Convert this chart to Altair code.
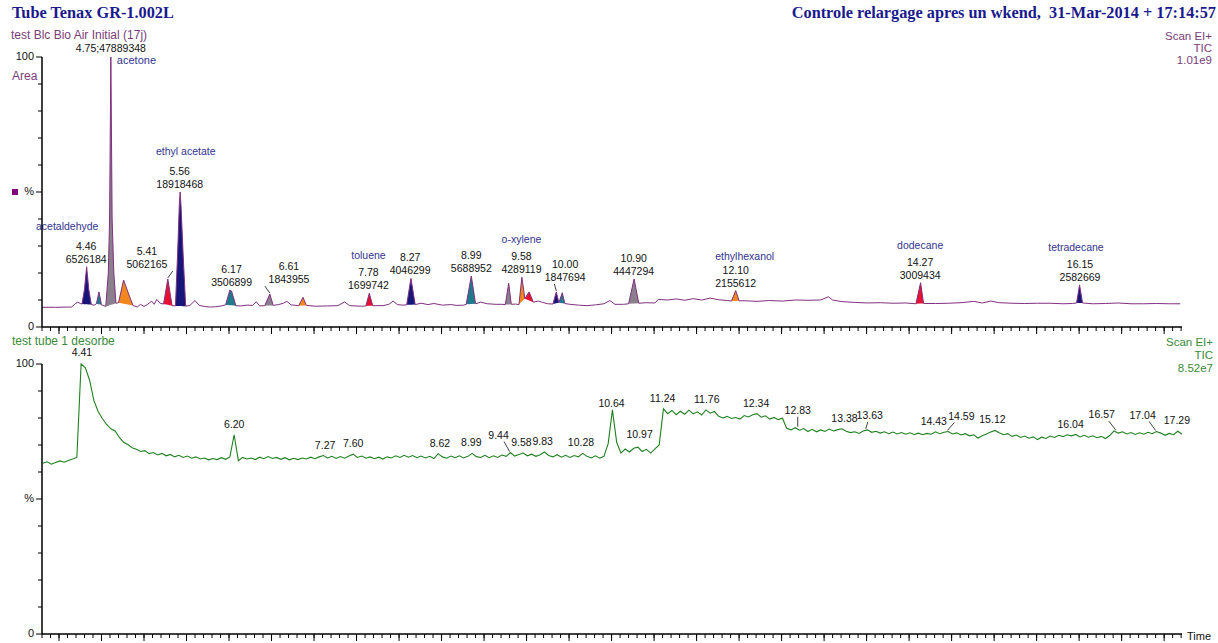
import altair as alt
import numpy as np
import pandas as pd

# ---------------------------------------------------------------------------
# Upper trace: "test Blc Bio Air Initial (17j)" TIC, % of 1.01e9
# (retention time in min, intensity in %)
# ---------------------------------------------------------------------------
TOP_TRACE = [
    (3.94, 7.3), (4.10, 7.3), (4.29, 7.4), (4.33, 8.6), (4.36, 9.2), (4.39, 8.7),
    (4.41, 8.5), (4.44, 14.0), (4.465, 22.3), (4.49, 14.0), (4.52, 8.3),
    (4.555, 8.1), (4.58, 8.6), (4.61, 13.0), (4.64, 8.2),
    (4.69, 7.6), (4.72, 20.0), (4.735, 40.0), (4.75, 100.0), (4.765, 40.0), (4.785, 20.0), (4.81, 8.8),
    (4.84, 9.0), (4.90, 17.4), (4.95, 13.0), (5.01, 8.0),
    (5.06, 7.4), (5.10, 8.4), (5.14, 7.6), (5.18, 8.3), (5.23, 9.6), (5.26, 8.4), (5.29, 10.2), (5.33, 8.8),
    (5.37, 8.5), (5.42, 17.8), (5.47, 7.9),
    (5.51, 7.8), (5.535, 27.0), (5.555, 45.0), (5.565, 50.0), (5.575, 45.0), (5.60, 27.0), (5.63, 7.7),
    (5.68, 8.0), (5.74, 9.8), (5.79, 8.0), (5.85, 7.6), (5.92, 7.4), (5.98, 7.5), (6.05, 7.8),
    (6.10, 8.2), (6.15, 13.7), (6.17, 13.3), (6.22, 7.9),
    (6.28, 7.8), (6.35, 8.1), (6.42, 8.0), (6.46, 9.4), (6.50, 7.8),
    (6.56, 7.9), (6.62, 12.2), (6.66, 8.0),
    (6.72, 8.3), (6.78, 8.8), (6.82, 9.5), (6.87, 8.2),
    (6.96, 7.9), (7.01, 11.0), (7.05, 8.0),
    (7.15, 7.7), (7.30, 7.8), (7.42, 7.9), (7.50, 9.3), (7.56, 7.9), (7.70, 7.7),
    (7.75, 7.8), (7.79, 12.5), (7.83, 7.9),
    (7.95, 7.9), (8.02, 8.4), (8.07, 9.6), (8.12, 8.3), (8.18, 8.1),
    (8.23, 8.2), (8.28, 18.0), (8.33, 8.3),
    (8.40, 8.8), (8.48, 8.3), (8.55, 8.7), (8.65, 8.1), (8.75, 8.3), (8.82, 8.0), (8.90, 8.1),
    (8.93, 8.4), (8.99, 18.9), (9.04, 8.6),
    (9.10, 9.2), (9.18, 8.6), (9.28, 8.4), (9.35, 8.4),
    (9.39, 8.3), (9.43, 16.2), (9.46, 8.4),
    (9.51, 8.5),
    (9.55, 8.3), (9.585, 18.4), (9.62, 10.5), (9.67, 13.0), (9.72, 9.2),
    (9.78, 9.6), (9.83, 9.1), (9.89, 8.6),
    (9.95, 8.5), (9.99, 13.0), (10.02, 9.0), (10.06, 12.7), (10.09, 8.7),
    (10.15, 8.4), (10.25, 8.1), (10.35, 7.9), (10.45, 8.2), (10.55, 8.6), (10.62, 9.8), (10.68, 8.4), (10.78, 8.4),
    (10.84, 8.6), (10.905, 17.8), (10.96, 8.8),
    (11.05, 9.0), (11.15, 8.9), (11.19, 10.2), (11.30, 10.0), (11.40, 10.4), (11.50, 9.9), (11.60, 10.5),
    (11.70, 10.0), (11.80, 10.7), (11.90, 10.1), (12.00, 9.8),
    (12.05, 9.6), (12.10, 13.5), (12.14, 9.7),
    (12.22, 9.7), (12.35, 9.5), (12.50, 9.8), (12.65, 9.6), (12.80, 10.0), (12.95, 9.9), (13.10, 10.0),
    (13.19, 11.2), (13.24, 10.0), (13.35, 9.4), (13.50, 9.1), (13.65, 8.9), (13.80, 9.0), (13.95, 8.8), (14.10, 8.9),
    (14.22, 8.6), (14.275, 16.4), (14.31, 8.7),
    (14.45, 8.7), (14.60, 8.8), (14.75, 9.0), (14.90, 9.5), (15.00, 8.9), (15.10, 9.6), (15.20, 9.0),
    (15.35, 8.8), (15.50, 8.7), (15.65, 8.8), (15.80, 8.8), (15.95, 8.6), (16.06, 8.7),
    (16.11, 8.9), (16.145, 15.6), (16.18, 8.9),
    (16.30, 8.6), (16.45, 8.7), (16.60, 8.9), (16.75, 8.6), (16.90, 8.6), (17.05, 8.7), (17.20, 8.6), (17.33, 8.6),
]

NAVY, TEAL, GREY, ORANGE, RED = "#16167a", "#1f7a8c", "#8a7f8c", "#f2871e", "#e8102e"

# integrated peaks: start, end, fill
PEAK_START = [4.41, 4.58, 4.69, 4.84, 5.37, 5.51, 6.10, 6.56, 6.96, 7.75, 8.23, 8.93, 9.39,
              9.55, 9.62, 9.95, 10.02, 10.84, 12.05, 14.22, 16.11]
PEAK_END = [4.52, 4.64, 4.81, 5.01, 5.47, 5.63, 6.22, 6.66, 7.05, 7.83, 8.33, 9.04, 9.46,
            9.62, 9.72, 10.02, 10.09, 10.96, 12.14, 14.31, 16.18]
PEAK_FILL = [NAVY, TEAL, GREY, ORANGE, RED, NAVY, TEAL, GREY, ORANGE, RED, NAVY, TEAL, GREY,
             ORANGE, RED, NAVY, TEAL, GREY, ORANGE, RED, NAVY]

# annotated peaks of the upper trace
TOP_LABEL_RT = ["4.46", "5.41", "5.56", "6.17", "6.61", "7.78", "8.27", "8.99", "9.58",
                "10.00", "10.90", "12.10", "14.27", "16.15"]
TOP_LABEL_AREA = [6526184, 5062165, 18918468, 3506899, 1843955, 1699742, 4046299, 5688952,
                  4289119, 1847694, 4447294, 2155612, 3009434, 2582669]
TOP_LABEL_NAME = ["acetaldehyde", "", "ethyl acetate", "", "", "toluene", "", "", "o-xylene",
                  "", "", "ethylhexanol", "dodecane", "tetradecane"]
BASE_PEAK_RT, BASE_PEAK_AREA, BASE_PEAK_NAME = "4.75", 47889348, "acetone"

# ---------------------------------------------------------------------------
# Lower trace: "test tube 1 desorbe" TIC, % of 8.52e7, one reading every 0.05 min
# from 3.95 min (one row per minute)
# ---------------------------------------------------------------------------
BOT_FIRST_RT, BOT_STEP = 3.95, 0.05
BOT_PCT = [
    63.2, 63.8, 62.9, 63.5, 64.1, 63.6, 64.3, 64.8, 65.4, 100.0, 98.6, 94.0, 86.5, 82.4, 79.8, 77.6, 76.0, 75.2, 72.8, 71.0,
    70.2, 69.0, 68.4, 67.6, 67.9, 66.8, 67.2, 66.3, 66.9, 66.0, 66.5, 65.6, 66.2, 65.4, 65.9, 65.1, 65.6, 64.8, 65.2, 64.5,
    65.0, 64.6, 65.3, 64.7, 65.6, 73.8, 64.2, 65.4, 64.8, 65.2, 64.6, 65.5, 64.9, 65.7, 65.0, 65.4, 64.7, 65.3, 64.5, 65.1,
    64.6, 65.2, 64.8, 65.5, 64.9, 65.6, 66.1, 65.2, 65.8, 65.0, 65.7, 65.1, 65.9, 66.6, 65.4, 65.9, 65.1, 65.6, 64.9, 65.5,
    64.8, 65.6, 65.2, 66.0, 65.4, 66.2, 65.5, 66.1, 65.3, 65.9, 65.2, 65.8, 65.0, 66.8, 65.6, 65.1, 65.9, 65.3, 66.0, 65.2,
    65.8, 66.9, 65.7, 65.4, 66.2, 65.3, 66.0, 65.4, 66.3, 65.8, 67.2, 65.9, 66.5, 67.0, 66.0, 66.6, 65.8, 66.4, 67.4, 66.1,
    65.6, 66.4, 65.5, 66.2, 65.4, 66.1, 65.6, 66.9, 65.8, 65.2, 66.0, 65.1, 65.8, 70.5, 83.0, 71.0, 67.0, 68.5, 67.4, 68.8,
    69.2, 67.6, 68.4, 67.0, 68.6, 70.0, 83.4, 81.6, 82.8, 81.2, 82.5, 81.4, 82.9, 81.5, 82.3, 81.1, 83.0, 81.8, 82.4, 80.6,
    80.0, 80.6, 79.8, 80.2, 79.6, 80.9, 80.4, 81.2, 81.6, 80.3, 80.8, 79.6, 80.2, 79.4, 79.9, 76.2, 75.6, 76.4, 75.5, 76.1,
    75.0, 75.8, 74.9, 75.6, 75.0, 75.9, 75.2, 75.7, 76.0, 75.1, 74.6, 74.9, 74.3, 75.2, 75.6, 74.7, 75.1, 74.4, 74.9, 74.2,
    74.8, 74.1, 74.6, 74.0, 74.5, 73.9, 74.4, 73.8, 74.3, 74.0, 74.9, 74.2, 74.7, 75.0, 74.1, 74.5, 73.7, 74.2, 73.4, 73.8,
    72.6, 73.4, 74.1, 74.8, 75.4, 74.5, 73.8, 74.2, 73.2, 73.7, 72.8, 73.3, 72.5, 73.0, 72.0, 72.9, 72.4, 73.3, 72.8, 73.6,
    73.1, 73.8, 73.4, 73.9, 73.0, 73.6, 72.9, 73.4, 72.7, 73.2, 72.4, 73.5, 75.2, 74.4, 74.9, 74.1, 74.6, 73.9, 74.5, 74.0,
    74.7, 74.2, 75.0, 74.4, 73.6, 74.3, 73.8, 75.1, 74.0,
]
BOT_LABEL_RT = ["4.41", "6.20", "7.27", "7.60", "8.62", "8.99", "9.44", "9.58", "9.83", "10.28",
                "10.64", "10.97", "11.24", "11.76", "12.34", "12.83", "13.38", "13.63", "14.43",
                "14.59", "15.12", "16.04", "16.57", "17.04", "17.29"]

# ---------------------------------------------------------------------------
# Layout (pixels)
# ---------------------------------------------------------------------------
W, H = 1140, 577                 # shared plot area holding both panels
RT_MIN, RT_MAX = 3.94, 17.35
PX_MIN = W / (RT_MAX - RT_MIN)   # pixels per minute
PX_PCT = 2.7                     # pixels per % in each panel
TOP_ZERO = 100 * PX_PCT          # y pixel of 0 % in the upper panel
BOT_ZERO = H                     # y pixel of 0 % in the lower panel
BOT_TOP = H - 100 * PX_PCT

FONT = "Liberation Sans"
SERIF = "Liberation Serif"
LABEL_SIZE = 10.5
HEAD_SIZE = 12
TITLE_BLUE = "#1a1a8c"
NAME_BLUE = "#34348f"
PURPLE = "#80307f"
PURPLE_TXT = "#7a3d7a"
GREEN = "#1f801f"
GREEN_TXT = "#3a8a3a"
INK = "#111111"

# label placement tweaks, in pixels
TOP_SHIFT = {"5.41": -20, "6.61": 20, "10.00": 8}
TOP_NAME_SHIFT = {"4.46": -19, "5.56": 6, "12.10": 9, "16.15": -4}
TOP_NAME_RAISE = {"4.46": 40, "5.56": 40, "12.10": 34}
BOT_RAISE = {"4.41": 11, "10.64": 6, "12.83": 17, "13.63": 14, "14.59": 15, "16.57": 16,
             "17.04": 16, "9.44": 17, "10.97": 12}
BOT_SHIFT = {"9.44": -11, "13.63": 4, "14.59": 14, "16.57": -14, "17.04": -13}
BOT_LEADER = ["9.44", "12.83", "13.63", "14.59", "16.57", "17.04"]

x_scale = alt.Scale(domain=[RT_MIN, RT_MAX], nice=False, zero=False)
top_scale = alt.Scale(domain=[100 - H / PX_PCT, 100], nice=False, zero=False)
bot_scale = alt.Scale(domain=[0, H / PX_PCT], nice=False, zero=False)


def xq(field):
    return alt.X(f"{field}:Q", scale=x_scale, axis=None)


def yq(field, scale):
    return alt.Y(f"{field}:Q", scale=scale, axis=None)


def local_peak(df, rt, half):
    w = df[(df.t >= rt - half) & (df.t <= rt + half)]
    i = w.v.idxmax()
    return float(w.t[i]), float(w.v[i])


def text_at(s, x, y, color=INK, size=HEAD_SIZE, font=FONT, align="left", weight="normal"):
    return alt.Chart(pd.DataFrame({"s": [s]})).mark_text(
        align=align, baseline="middle", font=font, fontSize=size, fontWeight=weight, color=color
    ).encode(x=alt.value(x), y=alt.value(y), text="s:N")


# ---------------------------------------------------------------------------
# data frames
# ---------------------------------------------------------------------------
top_df = pd.DataFrame(TOP_TRACE, columns=["t", "v"])

area_rows = []
for k, (s, e, c) in enumerate(zip(PEAK_START, PEAK_END, PEAK_FILL)):
    seg = top_df[(top_df.t >= s - 1e-9) & (top_df.t <= e + 1e-9)]
    v0, v1 = seg.v.iloc[0], seg.v.iloc[-1]
    for t, v in zip(seg.t, seg.v):
        base = v0 + (v1 - v0) * (t - s) / (e - s)
        area_rows.append({"t": t, "v": v, "b": base, "k": k, "c": c})
area_df = pd.DataFrame(area_rows)

top_txt, top_lead = [], []
for rt, area, name in zip(TOP_LABEL_RT, TOP_LABEL_AREA, TOP_LABEL_NAME):
    pt, pv = local_peak(top_df, float(rt), 0.03)
    shift = TOP_SHIFT.get(rt, 0)
    extra = 7 if shift else 0
    lx = float(rt) + shift / PX_MIN
    top_txt.append({"t": lx, "y": pv + (20 + extra) / PX_PCT, "s": rt, "c": INK, "a": "center"})
    top_txt.append({"t": lx, "y": pv + (7 + extra) / PX_PCT, "s": str(area), "c": INK, "a": "center"})
    if name:
        top_txt.append({"t": float(rt) + TOP_NAME_SHIFT.get(rt, 0) / PX_MIN,
                        "y": pv + TOP_NAME_RAISE.get(rt, 37) / PX_PCT, "s": name, "c": NAME_BLUE,
                        "a": "center"})
    if shift:
        top_lead.append({"t": pt - 0.25 * shift / PX_MIN, "y": pv + 8 / PX_PCT,
                         "t2": pt, "y2": pv + 1 / PX_PCT})
bt, bv = local_peak(top_df, float(BASE_PEAK_RT), 0.03)
top_txt.append({"t": bt, "y": bv + 8 / PX_PCT, "s": f"{BASE_PEAK_RT};{BASE_PEAK_AREA}", "c": INK,
                "a": "center"})
top_txt.append({"t": bt + 6 / PX_MIN, "y": bv - 4 / PX_PCT, "s": BASE_PEAK_NAME, "c": NAME_BLUE,
                "a": "left"})
top_txt_df = pd.DataFrame(top_txt)
top_lead_df = pd.DataFrame(top_lead)

bot_df = pd.DataFrame({"t": BOT_FIRST_RT + BOT_STEP * np.arange(len(BOT_PCT)), "v": BOT_PCT})
bot_txt, bot_lead = [], []
for rt in BOT_LABEL_RT:
    pt, pv = local_peak(bot_df, float(rt), 0.04)
    shift = BOT_SHIFT.get(rt, 0)
    raise_px = BOT_RAISE.get(rt, 10)
    lx = float(rt) + shift / PX_MIN
    bot_txt.append({"t": lx, "y": pv + raise_px / PX_PCT, "s": rt})
    if rt in BOT_LEADER:
        bot_lead.append({"t": float(rt) + 0.5 * shift / PX_MIN, "y": pv + (raise_px - 6) / PX_PCT,
                         "t2": float(rt), "y2": pv + 1 / PX_PCT})
bot_txt_df = pd.DataFrame(bot_txt)
bot_lead_df = pd.DataFrame(bot_lead)

MINOR_TICKS = [round(RT_MIN + 0.1 * k, 2) for k in range(int((RT_MAX - RT_MIN) / 0.1) + 1)]
MAJOR_TICKS = [round(4.14 + 0.5 * k, 2) for k in range(27) if 4.14 + 0.5 * k <= RT_MAX]
Y_MINOR = [10, 20, 30, 40, 60, 70, 80, 90]
Y_MAJOR = [0, 50, 100]


def frame_layers(scale, zero_px, top_px):
    """Axis lines, ticks and tick labels of one panel."""
    return [
        alt.Chart(pd.DataFrame({"a": [0]})).mark_rule(color="black", strokeWidth=1.5).encode(
            x=alt.value(0), y=alt.value(top_px), y2=alt.value(zero_px)),
        alt.Chart(pd.DataFrame({"a": [0]})).mark_rule(color="black", strokeWidth=1.5).encode(
            x=alt.value(0), x2=alt.value(W), y=alt.value(zero_px)),
        alt.Chart(pd.DataFrame({"p": Y_MINOR})).mark_rule(color="black").encode(
            x=alt.value(-4), x2=alt.value(0), y=yq("p", scale)),
        alt.Chart(pd.DataFrame({"p": Y_MAJOR})).mark_rule(color="black").encode(
            x=alt.value(-6), x2=alt.value(0), y=yq("p", scale)),
        alt.Chart(pd.DataFrame({"p": [100, 50, 0], "s": ["100", "%", "0"]})).mark_text(
            align="right", baseline="middle", font=FONT, fontSize=11, color=INK).encode(
            x=alt.value(-8), y=yq("p", scale), text="s:N"),
        alt.Chart(pd.DataFrame({"t": MINOR_TICKS})).mark_rule(color="black").encode(
            x=xq("t"), y=alt.value(zero_px), y2=alt.value(zero_px + 4)),
        alt.Chart(pd.DataFrame({"t": MAJOR_TICKS})).mark_rule(color="black").encode(
            x=xq("t"), y=alt.value(zero_px), y2=alt.value(zero_px + 7)),
    ]


# ---------------------------------------------------------------------------
# upper panel
# ---------------------------------------------------------------------------
top_layers = [
    alt.Chart(area_df).mark_area(interpolate="linear", opacity=1).encode(
        x=xq("t"), y=yq("v", top_scale), y2="b:Q",
        color=alt.Color("c:N", scale=None), detail="k:N"),
    alt.Chart(top_df).mark_line(color=PURPLE, strokeWidth=1).encode(x=xq("t"), y=yq("v", top_scale)),
    alt.Chart(top_lead_df).mark_rule(color=INK, strokeWidth=0.8).encode(
        x=xq("t"), x2="t2:Q", y=yq("y", top_scale), y2="y2:Q"),
    alt.Chart(top_txt_df[top_txt_df.a == "center"]).mark_text(
        align="center", baseline="middle", font=FONT, fontSize=LABEL_SIZE).encode(
        x=xq("t"), y=yq("y", top_scale), text="s:N", color=alt.Color("c:N", scale=None)),
    alt.Chart(top_txt_df[top_txt_df.a == "left"]).mark_text(
        align="left", baseline="middle", font=FONT, fontSize=LABEL_SIZE + 0.5).encode(
        x=xq("t"), y=yq("y", top_scale), text="s:N", color=alt.Color("c:N", scale=None)),
    *frame_layers(top_scale, TOP_ZERO, 0),
    alt.Chart(pd.DataFrame({"a": [0]})).mark_square(size=36, color="#800080", opacity=1).encode(
        x=alt.value(-27), y=alt.value(50 * PX_PCT)),
    text_at("Area", -30, 19, color=PURPLE_TXT),
    text_at("Tube Tenax GR-1.002L", -30, -44, color=TITLE_BLUE, size=16.3, font=SERIF, weight="bold"),
    text_at("Controle relargage apres un wkend,\u00a0 31-Mar-2014 + 17:14:57", 1174, -44,
            color=TITLE_BLUE, size=16.3, font=SERIF, weight="bold", align="right"),
    text_at("test Blc Bio Air Initial (17j)", -31, -22, color=PURPLE_TXT),
    text_at("Scan EI+", 1170, -20, color=PURPLE_TXT, align="right", size=11.5),
    text_at("TIC", 1170, -8, color=PURPLE_TXT, align="right", size=11.5),
    text_at("1.01e9", 1170, 4, color=PURPLE_TXT, align="right", size=11.5),
]

# ---------------------------------------------------------------------------
# lower panel
# ---------------------------------------------------------------------------
bot_layers = [
    alt.Chart(bot_df).mark_line(color=GREEN, strokeWidth=1.1).encode(x=xq("t"), y=yq("v", bot_scale)),
    alt.Chart(bot_lead_df).mark_rule(color=INK, strokeWidth=0.8).encode(
        x=xq("t"), x2="t2:Q", y=yq("y", bot_scale), y2="y2:Q"),
    alt.Chart(bot_txt_df).mark_text(align="center", baseline="middle", font=FONT, fontSize=LABEL_SIZE,
                                    color=INK).encode(
        x=xq("t"), y=yq("y", bot_scale), text="s:N"),
    *frame_layers(bot_scale, BOT_ZERO, BOT_TOP),
    text_at("test tube 1 desorbe", -30, 284, color=GREEN_TXT),
    text_at("Scan EI+", 1171, 286, color=GREEN_TXT, align="right", size=11.5),
    text_at("TIC", 1171, 299, color=GREEN_TXT, align="right", size=11.5),
    text_at("8.52e7", 1171, 312, color=GREEN_TXT, align="right", size=11.5),
    text_at("Time", 1145, 580, color=INK, size=11),
]

chart = (
    alt.layer(alt.layer(*top_layers), alt.layer(*bot_layers))
    .resolve_scale(y="independent")
    .properties(
        width=W,
        height=H,
        padding={"left": 42, "top": 57, "right": 36, "bottom": 9},
        autosize=alt.AutoSizeParams(type="none"),
        background="white",
    )
    .configure_view(stroke=None)
)

chart.save("out.html", embed_options={"renderer": "svg", "actions": False})
